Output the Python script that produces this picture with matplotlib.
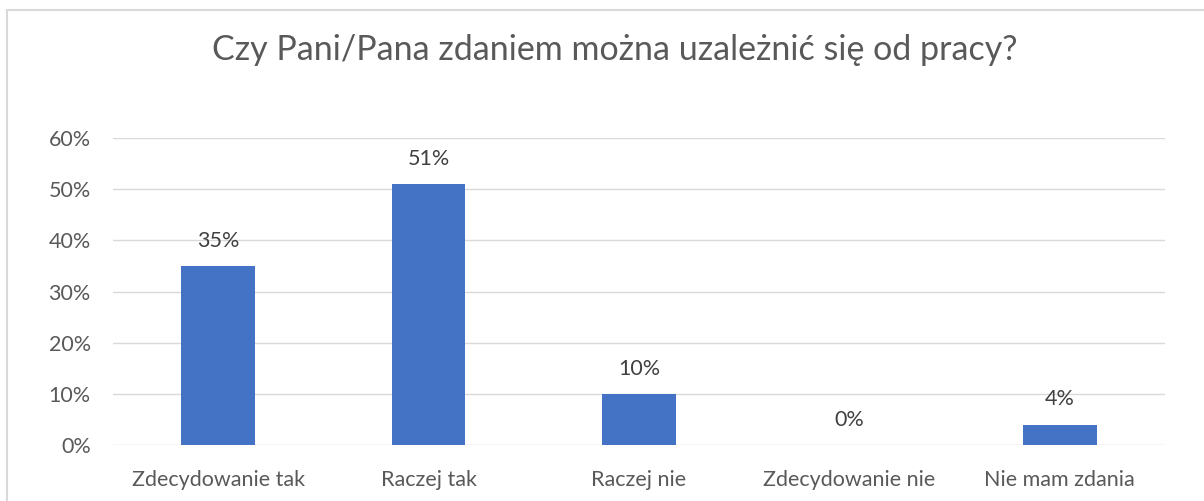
import matplotlib
matplotlib.use("Agg")
import matplotlib.pyplot as plt
from matplotlib.patches import Rectangle

categories = ["Zdecydowanie tak", "Raczej tak", "Raczej nie", "Zdecydowanie nie", "Nie mam zdania"]
values = [35, 51, 10, 0, 4]
yticks = [0, 10, 20, 30, 40, 50, 60]
title = "Czy Pani/Pana zdaniem można uzależnić się od pracy?"

plt.rcParams['font.family'] = ['Lato', 'DejaVu Sans']

W, H = 1204, 501
fig = plt.figure(figsize=(W/100, H/100), dpi=100)
fig.patches.append(Rectangle((7/W, -0.1), 1.2, 1 - 10/H + 0.1, transform=fig.transFigure,
                             fill=False, edgecolor="#d9d9d9", linewidth=1.5))

ax = fig.add_axes([113/W, 1 - 445/H, (1165 - 113)/W, (445 - 138)/H])
x = list(range(len(categories)))
ax.bar(x, values, width=0.35, color="#4472c4", zorder=3)
ax.set_xlim(-0.5, len(categories) - 0.5)
ax.set_ylim(0, 60)
ax.set_yticks(yticks)
ax.set_yticklabels([f"{v}%" for v in yticks], fontsize=15.5, color="#595959")
ax.set_xticks(x)
ax.set_xticklabels(categories, fontsize=15.5, color="#595959")
ax.tick_params(axis='both', length=0)
ax.tick_params(axis='y', pad=16)
ax.tick_params(axis='x', pad=18)
ax.grid(axis='y', color="#d9d9d9", linewidth=1, zorder=0)
for s in ax.spines.values():
    s.set_visible(False)
for xi, v in zip(x, values):
    ax.annotate(f"{v}%", (xi, v), xytext=(0, 11), textcoords="offset points",
                ha="center", va="bottom", fontsize=15.5, color="#404040")
fig.text(615/W, 1 - 50/H, title, ha="center", va="center", fontsize=24.5, color="#595959")

fig.savefig("out.png", dpi=100)
